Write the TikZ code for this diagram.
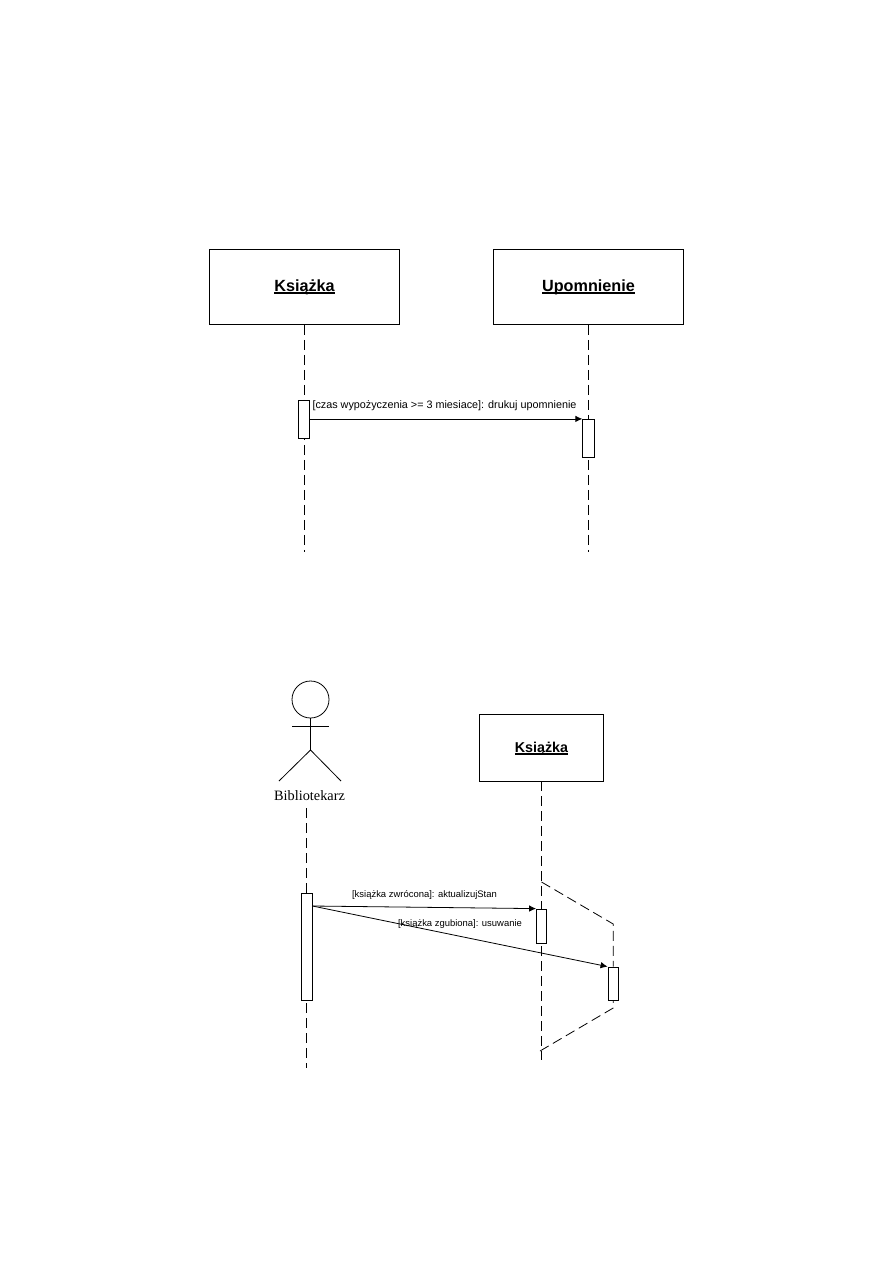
\documentclass[tikz,border=0pt]{standalone}
\usepackage{fontspec}
\setmainfont{Liberation Serif}
\setsansfont{Liberation Sans}
\usetikzlibrary{arrows.meta}
\newcommand{\podkresl}[1]{\setbox0\hbox{#1}\rlap{\rule[-2.6pt]{\wd0}{1.3pt}}\box0}
\tikzset{
    obiekt/.style={draw, fill=white, line width=0.8pt, inner sep=0pt, text height=16pt, text depth=8pt, font=\sffamily\bfseries\fontsize{16.2}{20}\selectfont},
    aktywacja/.style={draw, fill=white, line width=0.8pt, inner sep=0pt, minimum width=11.5pt},
    linia/.style={line width=0.8pt, dash pattern=on 10pt off 5pt},
    komunikat/.style={line width=0.8pt, -{Latex[length=7pt,width=6.5pt]}},
    opis/.style={inner sep=0pt, font=\sffamily\fontsize{10.8}{12}\selectfont},
    opismaly/.style={inner sep=0pt, font=\sffamily\fontsize{9.45}{11}\selectfont}
}
\begin{document}
\begin{tikzpicture}[x=1pt, y=-1pt]
        \useasboundingbox (0,0) rectangle (893,1263);
        % gorny diagram
        \node[obiekt, minimum width=190pt, minimum height=75pt] (ksiazka) at (304.5,287) {\podkresl{Książka}};
        \node[obiekt, minimum width=190pt, minimum height=75pt] (upomnienie) at (588.5,287) {\podkresl{Upomnienie}};
        \coordinate (ksiazkaend) at (304.5,552);
        \coordinate (upomnienieend) at (588.5,552);
        \draw[linia] (ksiazka.south) -- (ksiazkaend);
        \draw[linia] (upomnienie.south) -- (upomnienieend);
        \node[aktywacja, minimum height=38pt] (a1) at (304,419) {};
        \node[aktywacja, minimum height=38pt] (a2) at (588.5,438.3) {};
        \coordinate (a1out) at (a1.east |- a2.north);
        \draw[komunikat] (a1out) -- (a2.north west);
        \node[opis] (m1) at (444.5,405.5) {[czas wypożyczenia >= 3 miesiace]: drukuj upomnienie};
        % dolny diagram
        \node[draw, circle, line width=0.8pt, minimum size=37pt, inner sep=0pt] (glowa) at (310.5,699.5) {};
        \coordinate (biodra) at (310.5,750);
        \coordinate (rekaL) at (292,726);
        \coordinate (rekaP) at (329,726);
        \coordinate (nogaL) at (279,781);
        \coordinate (nogaP) at (341,781);
        \draw[line width=0.8pt] (glowa.south) -- (biodra);
        \draw[line width=0.8pt] (rekaL) -- (rekaP);
        \draw[line width=0.8pt] (nogaL) -- (biodra) -- (nogaP);
        \node[inner sep=0pt, font=\fontsize{14.3}{16}\selectfont] (bibliotekarz) at (309.5,796) {Bibliotekarz};
        \node[obiekt, font=\sffamily\bfseries\fontsize{14.3}{16}\selectfont, text height=15pt, text depth=6pt, minimum width=124.5pt, minimum height=67pt] (ksiazka2) at (541.5,747.5) {\podkresl{Książka}};
        \coordinate (bibstart) at (306.5,808);
        \coordinate (bibend) at (306.5,1068);
        \coordinate (ksiazka2end) at (541.5,1060);
        \draw[linia] (bibstart) -- (bibend);
        \draw[linia] (ksiazka2.south) -- (ksiazka2end);
        \node[aktywacja, minimum height=107pt] (b1) at (306.8,946.5) {};
        \node[aktywacja, minimum width=10pt, minimum height=34pt] (b2) at (541.5,926) {};
        \node[aktywacja, minimum width=10.5pt, minimum height=33pt] (b3) at (613.2,983.5) {};
        \coordinate (kopiaA) at (541.5,882);
        \coordinate (kopiaB) at (613.2,924);
        \coordinate (kopiaC) at (613.2,1008);
        \coordinate (kopiaD) at (540,1051);
        \draw[linia] (kopiaA) -- (kopiaB) -- (b3.north);
        \draw[linia] (kopiaD) -- (kopiaC) -- (b3.south);
        \coordinate (b1out) at (312.5,906);
        \draw[komunikat] (b1out) -- (b2.north west);
        \draw[komunikat] (b1out) -- (b3.north west);
        \node[opismaly] (m2) at (424.5,895) {[książka zwrócona]: aktualizujStan};
        \node[opismaly] (m3) at (460,924) {[książka zgubiona]: usuwanie};
    \end{tikzpicture}
\end{document}
